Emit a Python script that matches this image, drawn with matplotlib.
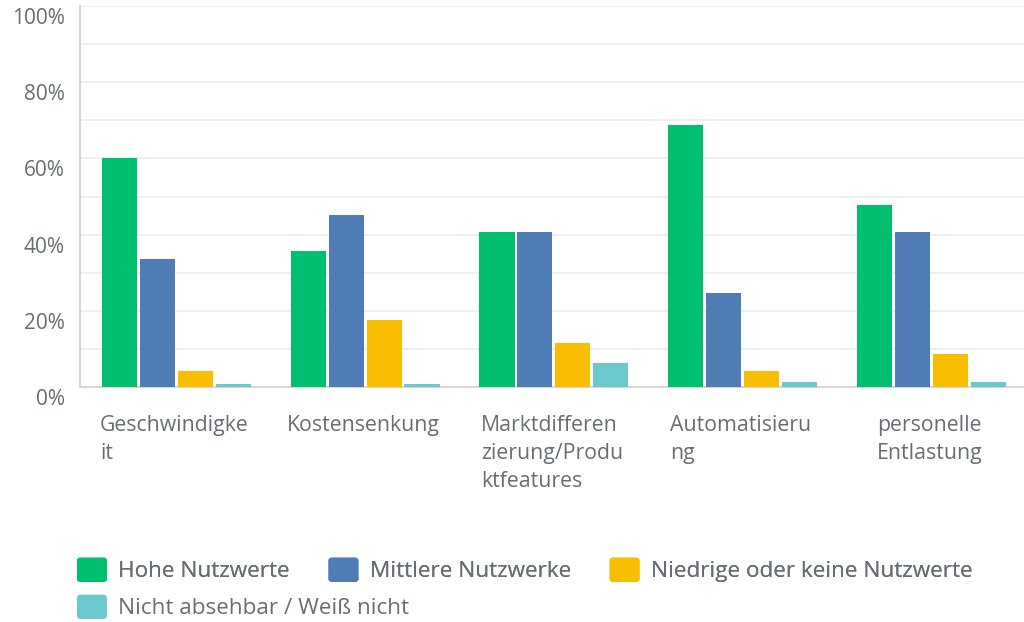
import matplotlib.pyplot as plt
import numpy as np
from matplotlib.patches import Patch, FancyBboxPatch
from matplotlib.legend_handler import HandlerPatch
from matplotlib.transforms import ScaledTranslation

plt.rcParams['font.family'] = ['Open Sans', 'DejaVu Sans']

# data
categories = ['Geschwindigke\nit', 'Kostensenkung', 'Marktdifferen\nzierung/Produ\nktfeatures',
              'Automatisieru\nng', 'personelle\nEntlastung']
series_names = ['Hohe Nutzwerte', 'Mittlere Nutzwerke', 'Niedrige oder keine Nutzwerte',
                'Nicht absehbar / Weiß nicht']
hohe = [60.1, 35.7, 40.7, 68.8, 47.8]
mittlere = [33.7, 45.1, 40.7, 24.7, 40.7]
niedrige = [4.1, 17.6, 11.6, 4.2, 8.7]
nicht = [0.7, 0.8, 6.2, 1.2, 1.3]
yticks = [0, 20, 40, 60, 80, 100]
ytick_labels = ['0%', '20%', '40%', '60%', '80%', '100%']

colors = ['#00bf6f', '#507cb6', '#f9be00', '#6bc8cd']
txt_color = '#676d74'

fig = plt.figure(figsize=(10.24, 6.22), dpi=100)
ax = fig.add_axes([80/1024, 1-387/622, 944/1024, 381/622])

x = np.arange(len(categories))
step = 0.201
width = 0.186
for i, (vals, c) in enumerate(zip([hohe, mittlere, niedrige, nicht], colors)):
    ax.bar(x + (i-1.5)*step + 0.01, vals, width=width, color=c, zorder=3)

ax.set_xlim(-0.5, len(categories)-0.5)
ax.set_ylim(0, 100)
ax.set_yticks(yticks)
ax.set_yticklabels(ytick_labels)
ax.set_yticks(np.arange(10, 100, 10), minor=True)
ax.yaxis.grid(True, which='minor', color='#ececec', linewidth=1.2, zorder=0)
ax.yaxis.grid(True, which='major', color='#ececec', linewidth=1.2, zorder=0)
ax.tick_params(axis='y', which='both', length=0, pad=11, labelsize=15, labelcolor=txt_color)
offset = ScaledTranslation(0, -0.10, fig.dpi_scale_trans)
for lab in ax.get_yticklabels():
    lab.set_transform(lab.get_transform() + offset)

ax.set_xticks(x)
ax.set_xticklabels(categories, ha='center', multialignment='left', linespacing=1.42)
ax.tick_params(axis='x', length=0, pad=20.5, labelsize=15.3, labelcolor=txt_color)

for s in ['top', 'right']:
    ax.spines[s].set_visible(False)
ax.spines['left'].set_color('#d6d6d6')
ax.spines['bottom'].set_color('#d6d6d6')
ax.spines['left'].set_linewidth(1.5)
ax.spines['bottom'].set_linewidth(1.5)


def rounded(legend, orig_handle, xdescent, ydescent, width, height, fontsize):
    return FancyBboxPatch((-xdescent, -ydescent), width, height,
                          boxstyle='round,pad=0,rounding_size=%f' % (height*0.13))


handles = [Patch(facecolor=c, label=n) for c, n in zip(colors, series_names)]
hmap = {Patch: HandlerPatch(patch_func=rounded)}
common = dict(frameon=False, loc='center left', borderpad=0, borderaxespad=0,
              handlelength=1.33, handleheight=1.28, handletextpad=0.5,
              columnspacing=1.72, fontsize=16.2, labelcolor=txt_color, handler_map=hmap)
leg1 = fig.legend(handles=handles[:3], ncol=3, bbox_to_anchor=(77/1024, 1-570/622), **common)
fig.add_artist(leg1)
fig.legend(handles=handles[3:], ncol=1, bbox_to_anchor=(77/1024, 1-607/622), **common)

fig.savefig('out.png', dpi=100)
